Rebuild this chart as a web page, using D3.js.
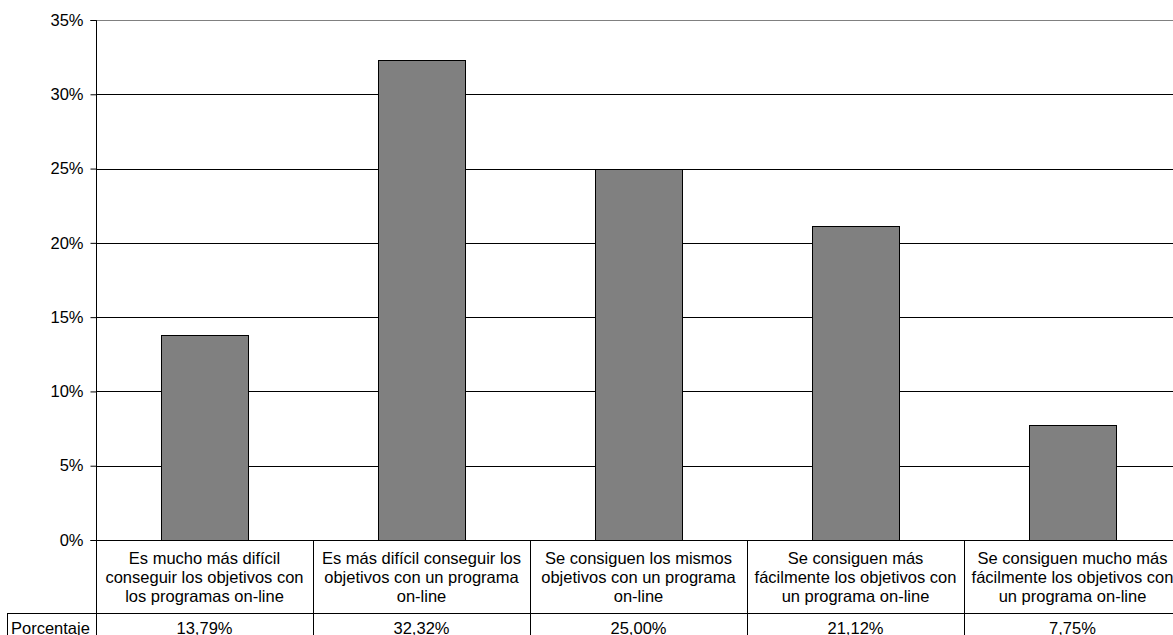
<!DOCTYPE html>
<html><head><meta charset="utf-8">
<script src="https://cdn.jsdelivr.net/npm/d3@7"></script>
<style>body{margin:0;background:#fff}svg{display:block}text{font-family:"Liberation Sans",Arial,sans-serif;fill:#000}</style>
</head><body>
<svg id="c" width="1173" height="635"></svg>
<script>
const categories = [
  ["Es mucho más difícil","conseguir los objetivos con","los programas on-line"],
  ["Es más difícil conseguir los","objetivos con un programa","on-line"],
  ["Se consiguen los mismos","objetivos con un programa","on-line"],
  ["Se consiguen más","fácilmente los objetivos con","un programa on-line"],
  ["Se consiguen mucho más","fácilmente los objetivos con","un programa on-line"]
];
const values = [13.79, 32.32, 25.00, 21.12, 7.75];
const valueLabels = ["13,79%","32,32%","25,00%","21,12%","7,75%"];
const seriesName = "Porcentaje";
const yTicks = [0,5,10,15,20,25,30,35];

(function(){
const svg = d3.select("#c");
const FS = 16.5;
const pL = 96, pR = 96 + 5*217, pT = 20, pB = 540;
const x = d3.scaleBand().domain(d3.range(categories.length)).range([pL, pR]).padding(0);
const y = d3.scaleLinear().domain([0,35]).range([pB, pT]);

svg.append("g").selectAll("line").data(yTicks.filter(d=>d>0)).join("line")
  .attr("x1", pL).attr("x2", pR)
  .attr("y1", d=>Math.round(y(d))+0.5).attr("y2", d=>Math.round(y(d))+0.5)
  .attr("stroke", d=> d===35 ? "#808080" : "#000").attr("stroke-width",1);

const bw = x.bandwidth()*0.4;
svg.append("g").selectAll("rect").data(values).join("rect")
  .attr("x", (d,i)=>Math.round(x(i)+x.bandwidth()/2-bw/2)+0.5)
  .attr("y", d=>Math.round(y(d))+0.5)
  .attr("width", Math.round(bw))
  .attr("height", d=>Math.round(y(0))-Math.round(y(d)))
  .attr("fill","#808080").attr("stroke","#000").attr("stroke-width",1);

const ya = svg.append("g").attr("transform",`translate(${pL+0.5},0)`)
  .call(d3.axisLeft(y).tickValues(yTicks).tickSize(6).tickFormat(d=>d+"%"));
ya.select(".domain").attr("stroke","#000").attr("d",`M-6,${y(35)+0.5}H0V${y(0)+0.5}H-6`);
ya.selectAll(".tick line").attr("stroke","#000");
ya.selectAll(".tick text").attr("font-size",FS).attr("font-family","Liberation Sans, Arial, sans-serif").attr("fill","#000").attr("x",-13);

svg.append("line").attr("x1",pL).attr("x2",pR).attr("y1",pB+0.5).attr("y2",pB+0.5).attr("stroke","#000");

const rowY = 613;
const tbl = svg.append("g");
tbl.append("line").attr("x1",7.5).attr("x2",pR).attr("y1",rowY+0.5).attr("y2",rowY+0.5).attr("stroke","#000");
tbl.append("line").attr("x1",7.5).attr("x2",7.5).attr("y1",rowY).attr("y2",640).attr("stroke","#000");
tbl.selectAll("line.v").data(d3.range(categories.length+1)).join("line").attr("class","v")
  .attr("x1",(d,i)=>Math.round(pL + i*x.step())+0.5).attr("x2",(d,i)=>Math.round(pL + i*x.step())+0.5)
  .attr("y1",pB).attr("y2",640).attr("stroke","#000");

const lines = [563.5,582.5,601.5];
categories.forEach((c,i)=>{
  c.forEach((t,j)=>{
    tbl.append("text").attr("x", x(i)+x.bandwidth()/2).attr("y", lines[j])
      .attr("text-anchor","middle").attr("font-size",FS).text(t);
  });
  tbl.append("text").attr("x", x(i)+x.bandwidth()/2).attr("y", 633.5)
    .attr("text-anchor","middle").attr("font-size",FS).text(valueLabels[i]);
});
tbl.append("text").attr("x",11).attr("y",633.5).attr("font-size",FS).text(seriesName);
})();
</script>
</body></html>
